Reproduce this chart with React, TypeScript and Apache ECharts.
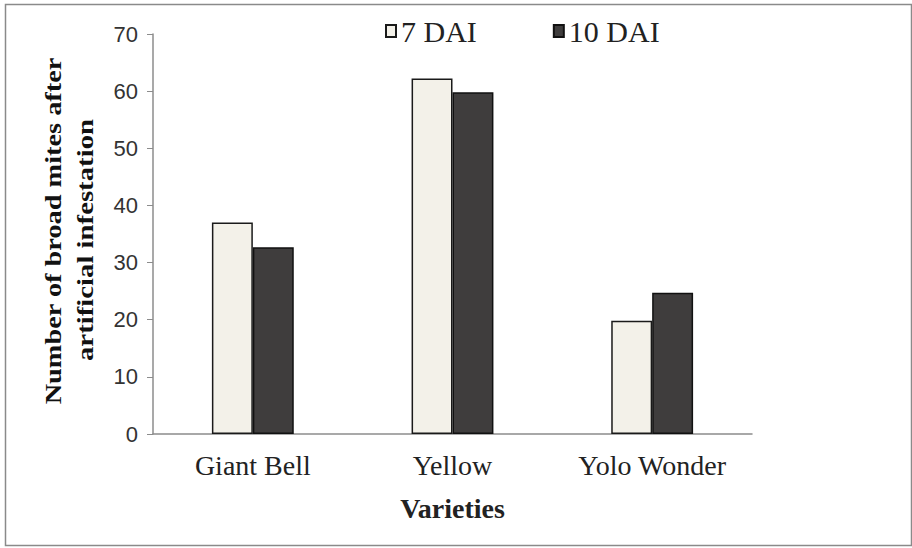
import React, { useEffect, useRef } from "react";
import * as echarts from "echarts";

const categories = ["Giant Bell", "Yellow", "Yolo Wonder"];
const seriesNames = ["7 DAI", "10 DAI"];
const dai7 = [37, 62.2, 19.8];
const dai10 = [32.7, 59.8, 24.7];
const yTitleLines = ["Number of broad mites after", "artificial infestation"];
const xTitle = "Varieties";

export default function App() {
  const ref = useRef<HTMLDivElement>(null);
  useEffect(() => {
    if (!ref.current) return;
    const chart = echarts.init(ref.current, undefined, { renderer: "svg" });
    const serif = "'Liberation Serif', 'Times New Roman', serif";
    chart.setOption({
      animation: false,
      backgroundColor: "#ffffff",
      grid: { left: 153, right: 160, top: 34, bottom: 114 },
      legend: {
        top: 11,
        left: 380,
        itemWidth: 10,
        itemHeight: 12,
        itemGap: 76,
        icon: "rect",
        textStyle: { fontFamily: serif, fontSize: 30, color: "#222" },
        data: seriesNames,
      },
      xAxis: {
        type: "category",
        data: categories,
        axisLine: { lineStyle: { color: "#8c8c8c", width: 1.5 } },
        axisTick: { show: false },
        axisLabel: { fontFamily: serif, fontSize: 28, color: "#222", margin: 17 },
        name: xTitle,
        nameLocation: "middle",
        nameGap: 60,
        nameTextStyle: { fontFamily: serif, fontSize: 28, fontWeight: "bold", color: "#222" },
      },
      yAxis: {
        type: "value",
        min: 0,
        max: 70,
        interval: 10,
        splitLine: { show: false },
        axisLine: { show: true, lineStyle: { color: "#8c8c8c", width: 1.5 } },
        axisTick: { show: true, length: 6, lineStyle: { color: "#8c8c8c" } },
        axisLabel: { fontFamily: "'Liberation Sans', Arial, sans-serif", fontSize: 22, color: "#333", margin: 15 },
      },
      series: [
        {
          name: seriesNames[0],
          type: "bar",
          data: dai7,
          barGap: "0%",
          barCategoryGap: "59%",
          itemStyle: { color: "#f3f1e9", borderColor: "#1a1a1a", borderWidth: 1.5 },
        },
        {
          name: seriesNames[1],
          type: "bar",
          data: dai10,
          barGap: "0%",
          barCategoryGap: "59%",
          itemStyle: { color: "#3f3d3d", borderColor: "#111", borderWidth: 1.5 },
        },
      ],
      graphic: [
        {
          type: "rect",
          shape: { x: 5.5, y: 4.5, width: 906, height: 541 },
          style: { fill: "none", stroke: "#8a8a8a", lineWidth: 1.5 },
          silent: true,
        },
        {
          type: "text",
          x: 53,
          y: 231,
          rotation: Math.PI / 2,
          scaleX: 1.35,
          scaleY: 1.05,
          style: {
            text: yTitleLines[0],
            fontFamily: serif,
            fontSize: 21,
            fontWeight: "bold",
            fill: "#111",
            textAlign: "center",
            textVerticalAlign: "middle",
          },
        },
        {
          type: "text",
          x: 86,
          y: 240,
          rotation: Math.PI / 2,
          scaleX: 1.37,
          scaleY: 1.05,
          style: {
            text: yTitleLines[1],
            fontFamily: serif,
            fontSize: 21,
            fontWeight: "bold",
            fill: "#111",
            textAlign: "center",
            textVerticalAlign: "middle",
          },
        },
      ],
    });
    return () => chart.dispose();
  }, []);
  return (
    <div
      ref={ref}
      style={{ position: "absolute", left: 0, top: 0, width: 912, height: 548 }}
    />
  );
}
